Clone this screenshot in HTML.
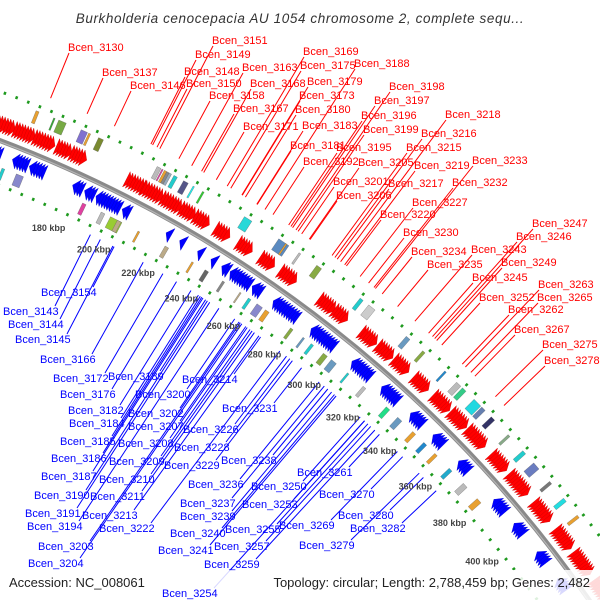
<!DOCTYPE html>
<html><head><meta charset="utf-8">
<style>
html,body{margin:0;background:#fff;width:600px;height:600px;overflow:hidden;}
svg{display:block;font-family:"Liberation Sans","DejaVu Sans",sans-serif;overflow:hidden;}
</style></head>
<body>
<svg id="map" width="600" height="600" viewBox="0 0 600 600">
<text x="300" y="23" text-anchor="middle" font-size="13.5" font-style="italic" fill="#333" letter-spacing="0.6">Burkholderia cenocepacia AU 1054 chromosome 2, complete sequ...</text>
<g id="tracks"></g>
<g id="leaders"></g>
<rect x="0" y="570" width="600" height="30" fill="#fff" opacity="0.85"/>
<g id="labels"></g>
<text x="9" y="587" font-size="13" fill="#222">Accession: NC_008061</text>
<text x="590" y="587" font-size="13" fill="#222" text-anchor="end">Topology: circular; Length: 2,788,459 bp; Genes: 2,482</text>
</svg>
<script>
// ---- data ----
const tickKbp = [180,200,220,240,260,280,300,320,340,360,380,400];
const fwdClusters = [[146,152],[153,160],[161,168],[170,175],[176,181],[199,206],[206,213],[214,221],[222,227],[228,233],[237,242],[247,252],[257,262],[266,272],[284,290],[291,296],[304,310],[312,318],[320,326],[330,336],[340,347],[349,356],[358,366],[371,378],[381,390],[395,403],[408,416],[419,428],[432,440]];
const revClusters = [[146,152],[158,163],[165,170],[183,186],[188,191],[193,202],[204,206],[223,224],[229,230],[237,238],[243,244],[248,250],[252,260],[262,265],[272,282],[290,300],[310,318],[325,332],[340,345],[352,356],[366,370],[386,391],[398,402],[412,416],[425,429]];
const outerBoxKbp = [158,165,167,176,179,183,207,209,210,211,212,214,218,222,226,244,259,262,268,276,296,300,318,326,337,343,346,352,356,361,370,378,384,393,401,409];
const outerBoxLen = [1.2,0.6,3,2.5,0.8,2,1.6,0.5,1,1,1,1.4,2,0.6,0.7,3.2,4.5,0.6,0.8,2.2,1.4,3,1.8,1.2,0.8,2.2,1.8,3.5,1.8,1.8,1.0,1.6,3,1.2,1.6,1.2];
const outerBoxColor = ["#e8a030","#3a3","#7a4","#8070d0","#e8a030","#7a8a30","#bbb","#e040a0","#e8a030","#888","#9ab","#2cc","#558","#2ee","#3c3","#28d8d8","#5a8ac0","#e8a030","#bbb","#8a4","#2cc","#ccc","#6a9ac0","#8a4","#28c","#bbb","#3c8","#22d8e0","#6680b0","#336","#8a8","#2cc","#6a7cc0","#777","#22dde0","#e8a030"];
const innerBoxKbp = [150,154,160,188,196,200,203,212,224,236,242,250,258,262,266,270,282,288,292,298,302,310,318,330,336,344,350,356,364,372,380];
const innerBoxLen = [1.4,1.2,3,1.5,1.6,5,1.6,0.8,1.6,0.8,1.6,1.0,0.6,1.2,2.6,1.8,1.2,0.8,1.2,2,2.5,0.8,1.4,1.8,2.2,1.6,1.6,1.4,1.6,2.2,2.2];
const innerBoxColor = ["#448","#2cc","#88c","#e040a0","#bbb","#9c3","#ba8","#e8a030","#ba8","#e8a030","#666","#888","#ba8","#2cc","#88c","#e8a030","#8a4","#6a9ac0","#2cc","#8a4","#6a9ac0","#2cc","#bbb","#2d8","#6a9ac0","#e8a030","#28c","#e8a030","#2ac","#bbb","#e8a030"];
const redNames = ["3130","3137","3146","3148","3149","3150","3151","3158","3163","3167","3168","3169","3171","3173","3175","3179","3180","3181","3183","3188","3192","3195","3196","3197","3198","3199","3201","3205","3206","3215","3216","3217","3218","3219","3220","3227","3230","3232","3233","3234","3235","3243","3245","3246","3247","3249","3252","3262","3263","3265","3267","3275","3278"];
const redLabelX = [68,102,130,184,195,186,212,209,242,233,250,303,243,299,300,307,295,290,302,354,303,336,361,374,389,363,333,358,336,406,421,388,445,414,380,412,403,452,472,411,427,471,472,516,532,501,479,508,538,537,514,542,544];
const redLabelY = [47,72,85,71,54,83,40,95,67,108,83,51,126,95,65,81,109,145,125,63,161,147,115,100,86,129,181,162,195,147,133,183,114,165,214,202,232,182,160,251,264,249,277,236,223,262,297,309,284,297,329,344,360];
const blueNames = ["3143","3144","3145","3154","3166","3172","3176","3182","3184","3185","3186","3187","3189","3190","3191","3194","3200","3202","3203","3204","3207","3208","3209","3210","3211","3213","3214","3222","3226","3228","3229","3231","3236","3237","3238","3239","3240","3241","3250","3253","3254","3255","3257","3259","3261","3269","3270","3279","3280","3282"];
const blueLabelX = [3,8,15,41,40,53,60,68,69,60,51,41,108,34,25,27,135,128,38,28,128,118,109,99,90,82,182,99,183,174,164,222,188,180,221,180,170,158,251,242,162,225,214,204,297,279,319,299,338,350];
const blueLabelY = [311,324,339,292,359,378,394,410,423,441,458,476,376,495,513,526,394,413,546,563,426,443,461,479,496,515,379,528,429,447,465,408,484,503,460,516,533,550,486,504,593,529,546,564,472,525,494,545,515,528];

// ---- geometry ----
const CX=-450, CY=1325, R=1267;
const NS="http://www.w3.org/2000/svg";
function ang(k){return (-65.56+(k-180)*0.11925)*Math.PI/180;}
function P(k,r){const a=ang(k);return [CX+r*Math.cos(a),CY+r*Math.sin(a)];}
function pts(a){return a.map(p=>p[0].toFixed(1)+","+p[1].toFixed(1)).join(" ");}
function radialTo(x,y,r){const dx=x-CX,dy=y-CY,d=Math.hypot(dx,dy);return [CX+dx/d*r,CY+dy/d*r];}
const tracks=document.getElementById("tracks"),leaders=document.getElementById("leaders"),labels=document.getElementById("labels");
function mk(tag,attrs,parent){const e=document.createElementNS(NS,tag);for(const k in attrs)e.setAttribute(k,attrs[k]);parent.appendChild(e);return e;}
function arcPath(r,k0,k1){const a=P(k0,r),b=P(k1,r);return "M"+a[0].toFixed(1)+","+a[1].toFixed(1)+" A"+r+","+r+" 0 0 1 "+b[0].toFixed(1)+","+b[1].toFixed(1);}

// dotted rings
[R+46,R-42].forEach((r,i)=>{
  const e=mk("path",{d:arcPath(r,140,450),fill:"none",stroke:"#1f9a1f","stroke-width":3,"stroke-dasharray":"2.5 10"},tracks);
  
  
});
// backbone
const bb=mk("path",{d:arcPath(R,140,450),fill:"none",stroke:"#8a8a8a","stroke-width":5},tracks);


mk("path",{d:arcPath(R-1,140,450),fill:"none",stroke:"#b5b5b5","stroke-width":1.2},tracks);

// forward arrows (red)
fwdClusters.forEach(c=>{
  for(let k=c[0];k<c[1];k+=1.1){
    const e=mk("polygon",{points:pts([P(k,R+7),P(k,R+24),P(Math.min(k+2.2,c[1]+1.5),R+15.5)]),fill:"#f00",stroke:"#c00","stroke-width":0.4},tracks);
    
    
  }
});
// reverse arrows (blue)
revClusters.forEach(c=>{
  for(let k=c[1];k>c[0];k-=1.1){
    const e=mk("polygon",{points:pts([P(k,R-5),P(k,R-21),P(Math.max(k-2.2,c[0]-1.5),R-13)]),fill:"#00f",stroke:"#00c","stroke-width":0.4},tracks);
    
    
  }
});
// boxes
outerBoxKbp.forEach((k,i)=>{
  const e=mk("polygon",{points:pts([P(k,R+28),P(k+outerBoxLen[i],R+28),P(k+outerBoxLen[i],R+41),P(k,R+41)]),fill:outerBoxColor[i],stroke:"#555","stroke-width":0.3},tracks);
  
  
});
innerBoxKbp.forEach((k,i)=>{
  const e=mk("polygon",{points:pts([P(k,R-25),P(k+innerBoxLen[i],R-25),P(k+innerBoxLen[i],R-37),P(k,R-37)]),fill:innerBoxColor[i],stroke:"#555","stroke-width":0.3},tracks);
  
  
});
// tick labels
tickKbp.forEach(k=>{
  const p=P(k,1205);
  const t=mk("text",{x:p[0].toFixed(1),y:(p[1]+3).toFixed(1),"text-anchor":"middle","font-size":"9","font-weight":"bold",fill:"#444"},labels);
  t.textContent=k+" kbp";
  
  
});
// red labels
redNames.forEach((n,i)=>{
  const x=redLabelX[i],y=redLabelY[i];
  const sx=x+1, sy=y+6;
  const s=radialTo(sx,sy,R+58);
  const l=mk("line",{x1:s[0].toFixed(1),y1:s[1].toFixed(1),x2:sx,y2:sy,stroke:"#f00","stroke-width":1},leaders);
  
  
  const t=mk("text",{x:x,y:y+4,"font-size":"11",fill:"#f00"},labels);
  t.textContent="Bcen_"+n;
  
  
});
// blue labels
blueNames.forEach((n,i)=>{
  const x=blueLabelX[i],y=blueLabelY[i];
  const sx=x+52, sy=y-5;
  const s=radialTo(sx,sy,R-50);
  const l=mk("line",{x1:s[0].toFixed(1),y1:s[1].toFixed(1),x2:sx,y2:sy,stroke:"#00f","stroke-width":1},leaders);
  
  
  const t=mk("text",{x:x,y:y+4,"font-size":"11",fill:"#00f"},labels);
  t.textContent="Bcen_"+n;
  
  
});
</script>
</body></html>
